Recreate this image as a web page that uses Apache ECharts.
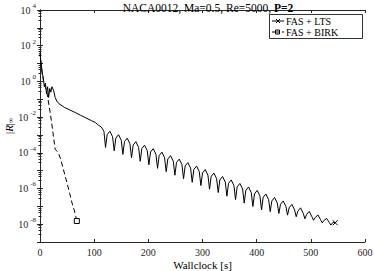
<!DOCTYPE html>
<html><head><meta charset="utf-8">
<script src="https://cdn.jsdelivr.net/npm/echarts@6/dist/echarts.min.js"></script>
<style>html,body{margin:0;padding:0;background:#fff}#c{width:374px;height:271px}</style>
</head><body><div id="c"></div>
<script>
// Wallclock time [s] and residual for FAS + LTS
const ltsTime = [0,2,4,6,8,10,12,14,16,18,20,22,25,28,31,35,45,55,65,75,85,95,102,108,113,118,
121,124,129,134, 137,140,145,150, 153,156,161,166, 169,172,177,182, 185,188,193,198,
201,204,209,214, 217,220,225,230, 233,236,241,246, 249,252,257,262, 265,268,273,278,
281,284,289,294, 297,300,305,310, 313,316,321,326, 329,332,337,342, 345,348,353,358,
361,364,369,374, 377,380,385,390, 393,396,401,406, 409,412,417,422, 425,428,433,438,
441,444,449,454, 457,460,465,470, 473,476,481,486, 489,492,497,502, 505,508,513,518,
521,524,529,534, 537,541,545];
const ltsRes = [40,10,3.2,1.6,0.5,0.79,0.2,0.5,0.126,0.4,0.25,0.5,0.32,0.126,0.079,0.056,0.035,0.025,0.018,0.0126,0.0089,0.0063,0.005,3.5e-3,2.8e-3,1.6e-3,
2.0e-4,1.05e-3,1.61e-3,7.9e-4, 1.29e-4,6.6e-4,1.03e-3,5.0e-4, 8.1e-5,4.3e-4,6.6e-4,3.2e-4,
5.2e-5,2.7e-4,4.2e-4,2.0e-4, 3.3e-5,1.74e-4,2.67e-4,1.30e-4, 2.1e-5,1.10e-4,1.70e-4,8.3e-5,
1.35e-5,7.0e-5,1.09e-4,5.3e-5, 8.7e-6,4.5e-5,6.9e-5,3.4e-5, 5.5e-6,2.9e-5,4.4e-5,2.2e-5,
3.5e-6,1.82e-5,2.8e-5,1.38e-5, 2.2e-6,1.16e-5,1.80e-5,8.8e-6, 1.45e-6,7.4e-6,1.15e-5,5.6e-6,
9.1e-7,4.7e-6,7.3e-6,3.6e-6, 5.9e-7,3.0e-6,4.7e-6,2.3e-6, 3.7e-7,1.93e-6,3.0e-6,1.46e-6,
2.4e-7,1.23e-6,1.90e-6,9.3e-7, 1.51e-7,7.9e-7,1.21e-6,5.9e-7, 9.8e-8,5.0e-7,7.8e-7,3.8e-7,
6.2e-8,3.2e-7,4.9e-7,2.4e-7, 5.0e-8,2.0e-7,3.1e-7,1.54e-7, 4.0e-8,1.30e-7,2.0e-7,9.8e-8,
3.2e-8,8.3e-8,1.28e-7,6.3e-8, 2.6e-8,5.3e-8,8.2e-8,4.0e-8, 2.0e-8,3.4e-8,5.2e-8,2.6e-8,
1.66e-8,2.3e-8,3.3e-8,1.78e-8, 1.17e-8,1.58e-8,2.1e-8,1.26e-8, 8.9e-9,1.26e-8,1.2e-8];

// Wallclock time [s] and residual for FAS + BIRK
const birkTime = [0,3,6,10,13,15,18,21,24,28,31,34,38,42,46,50,55,59,63,66,68];
const birkRes = [40,5,1.26,0.5,0.22,0.091,0.025,6.3e-3,1.26e-3,1.58e-4,1.26e-4,1e-4,4.5e-5,1.58e-5,5.6e-6,2e-6,5e-7,1.58e-7,6.3e-8,2.8e-8,1.5e-8];

const seriesNames = ['FAS + LTS', 'FAS + BIRK'];
const xTicks = [0,100,200,300,400,500,600];
const yLabelPowers = [4,2,0,-2,-4,-6,-8];

const FONT = '"Liberation Serif", "DejaVu Serif", serif';
const XMARK = 'path://M0,0L10,10M10,0L0,10';

function build(ts, rs, sym) {
  return ts.map((t, i) => {
    if (i === ts.length - 1) {
      return { value: [t, rs[i]], symbol: sym.symbol, symbolSize: sym.size, itemStyle: sym.style };
    }
    return [t, rs[i]];
  });
}

const chart = echarts.init(document.getElementById('c'), null, { renderer: 'svg' });

const axisCol = '#262626';
const commonY = {
  type: 'log', logBase: 10, min: 1e-9, max: 1e4, interval: 1,
  splitLine: { show: false },
  axisLine: { show: true, lineStyle: { color: axisCol, width: 1 } },
  axisTick: { show: true, inside: true, length: 3, lineStyle: { color: axisCol } },
  minorTick: { show: true, splitNumber: 5, length: 1.5, lineStyle: { color: axisCol } },
};
const commonX = {
  type: 'value', min: 0, max: 600, interval: 100,
  splitLine: { show: false },
  axisLine: { show: true, lineStyle: { color: axisCol, width: 1 } },
  axisTick: { show: true, inside: true, length: 3, lineStyle: { color: axisCol } },
};

chart.setOption({
  animation: false,
  backgroundColor: '#fff',
  title: {
    text: '{n|NACA0012, Ma=0.5, Re=5000, }{b|P=2}',
    left: 203, textAlign: 'center', top: -3,
    textStyle: {
      fontWeight: 'normal',
      rich: {
        n: { fontFamily: FONT, fontSize: 11.5, color: '#000', fontWeight: 'normal' },
        b: { fontFamily: FONT, fontSize: 11.5, color: '#000', fontWeight: 'bold' }
      }
    }
  },
  grid: { left: 40, right: 9, top: 10, bottom: 29, containLabel: false, outerBoundsMode: 'none' },
  xAxis: [
    Object.assign({}, commonX, {
      position: 'bottom',
      name: 'Wallclock [s]', nameLocation: 'middle', nameGap: 17, nameMoveOverlap: false,
      nameTextStyle: { fontFamily: FONT, fontSize: 11, color: '#000', verticalAlign: 'top' },
      axisLabel: { show: true, margin: 5, fontFamily: FONT, fontSize: 10, color: '#262626',
        formatter: v => (xTicks.indexOf(v) >= 0 ? String(v) : '') }
    }),
    Object.assign({}, commonX, { position: 'top', axisLabel: { show: false } })
  ],
  yAxis: [
    Object.assign({}, commonY, {
      position: 'left',
      name: '{v||}{r|R}{v||}{s|∞}', nameLocation: 'middle', nameGap: 26, nameRotate: 90, nameMoveOverlap: false,
      nameTextStyle: {
        rich: {
          v: { fontFamily: FONT, fontSize: 11, color: '#000' },
          r: { fontFamily: FONT, fontSize: 11, color: '#000', fontStyle: 'italic' },
          s: { fontFamily: FONT, fontSize: 7, color: '#000', verticalAlign: 'bottom', padding: [4, 0, 0, 0] }
        }
      },
      axisLabel: {
        show: true, margin: 4, color: '#262626',
        formatter: function (v) {
          const p = Math.round(Math.log10(v));
          if (yLabelPowers.indexOf(p) < 0) return '';
          return '{b|10}{e|' + (p < 0 ? '-' + (-p) : p) + '}';
        },
        rich: {
          b: { fontFamily: FONT, fontSize: 10, color: '#262626' },
          e: { fontFamily: FONT, fontSize: 7, color: '#262626', verticalAlign: 'top', padding: [0, 0, 8, 2] }
        }
      }
    }),
    Object.assign({}, commonY, { position: 'right', axisLabel: { show: false } })
  ],
  series: [
    {
      name: seriesNames[0], type: 'line', xAxisIndex: 0, yAxisIndex: 0,
      data: build(ltsTime, ltsRes, { symbol: XMARK, size: 5, style: { color: 'none', borderColor: '#000', borderWidth: 1 } }),
      symbol: 'none', showSymbol: true, smooth: false,
      lineStyle: { color: '#000', width: 1, type: 'solid' },
      itemStyle: { color: '#000' }
    },
    {
      name: seriesNames[1], type: 'line', xAxisIndex: 0, yAxisIndex: 0,
      data: build(birkTime, birkRes, { symbol: 'rect', size: 5, style: { color: '#fff', borderColor: '#000', borderWidth: 1 } }),
      symbol: 'none', showSymbol: true, smooth: false,
      lineStyle: { color: '#000', width: 1, type: [5, 3] },
      itemStyle: { color: '#000' }
    }
  ],
  graphic: [
    { type: 'rect', shape: { x: 269.5, y: 14.5, width: 93, height: 24 }, style: { fill: '#fff', stroke: '#000', lineWidth: 0.8 }, z: 100 },
    { type: 'line', shape: { x1: 272, y1: 21, x2: 284, y2: 21 }, style: { stroke: '#000', lineWidth: 1 }, z: 101 },
    { type: 'line', shape: { x1: 276, y1: 19, x2: 280, y2: 23 }, style: { stroke: '#000', lineWidth: 1 }, z: 101 },
    { type: 'line', shape: { x1: 280, y1: 19, x2: 276, y2: 23 }, style: { stroke: '#000', lineWidth: 1 }, z: 101 },
    { type: 'text', x: 286, y: 21, style: { text: seriesNames[0], font: '10px ' + FONT, fill: '#000', verticalAlign: 'middle' }, z: 101 },
    { type: 'line', shape: { x1: 272, y1: 32, x2: 284, y2: 32 }, style: { stroke: '#000', lineWidth: 1, lineDash: [3, 2] }, z: 101 },
    { type: 'rect', shape: { x: 275.5, y: 30, width: 4, height: 4 }, style: { fill: '#fff', stroke: '#000', lineWidth: 1 }, z: 102 },
    { type: 'line', shape: { x1: 275.5, y1: 32, x2: 279.5, y2: 32 }, style: { stroke: '#000', lineWidth: 1 }, z: 103 },
    { type: 'text', x: 286, y: 32, style: { text: seriesNames[1], font: '10px ' + FONT, fill: '#000', verticalAlign: 'middle' }, z: 101 }
  ]
});
</script>
</body></html>
